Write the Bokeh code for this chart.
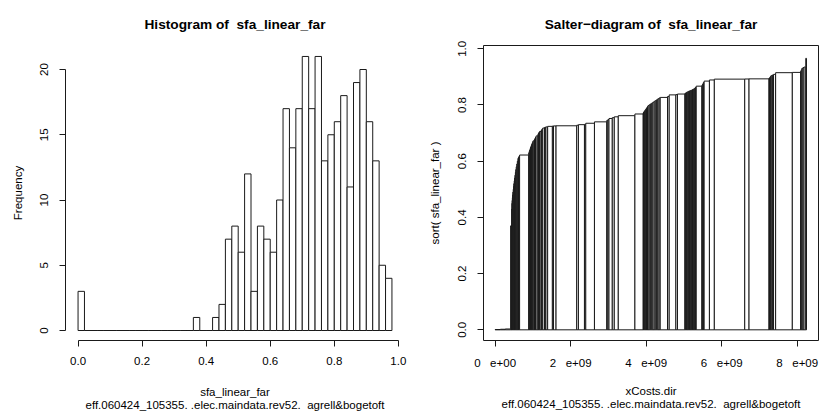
import numpy as np
from bokeh.plotting import figure
from bokeh.layouts import row
from bokeh.models import FixedTicker, PrintfTickFormatter, ColumnDataSource, Title
from bokeh.embed import file_html
from bokeh.resources import INLINE

FONT = "Liberation Sans"
TXT = "11.5px"
INK = "#1a1a1a"

# ---- histogram of sfa_linear_far (breaks every 0.02 from 0.00 to 0.98)
hist_bin_width = 0.02
hist_counts = [
    3, 0, 0, 0, 0, 0, 0, 0, 0, 0,            # 0.00 - 0.20
    0, 0, 0, 0, 0, 0, 0, 0, 1, 0,            # 0.20 - 0.40
    0, 1, 2, 7, 8, 6, 12, 3, 8, 7,           # 0.40 - 0.60
    6, 10, 17, 14, 17, 21, 17, 21, 13, 15,   # 0.60 - 0.80
    16, 18, 11, 19, 20, 16, 13, 5, 4,        # 0.80 - 0.98
]
hist_xticks = [0.0, 0.2, 0.4, 0.6, 0.8, 1.0]
hist_yticks = [0, 5, 10, 15, 20]

# ---- Salter diagram: firms sorted by efficiency, bar width = firm cost (bn)
salter_eff = [
    0.001, 0.002, 0.003, 0.37,
    0.43, 0.45, 0.46, 0.47, 0.48, 0.49, 0.50, 0.51, 0.52, 0.53,
    0.54, 0.55, 0.56, 0.57, 0.58, 0.59, 0.60, 0.61, 0.614, 0.618,
    0.622,
    0.63, 0.635, 0.64, 0.645, 0.65,
    0.655, 0.66, 0.665, 0.67, 0.673,
    0.678, 0.682, 0.686, 0.69,
    0.695, 0.70, 0.703, 0.706,
    0.709, 0.712, 0.715, 0.718,
    0.72, 0.721, 0.722,
    0.724, 0.725, 0.7255, 0.726,
    0.728, 0.73, 0.731, 0.735, 0.74, 0.745, 0.748, 0.752, 0.755, 0.758, 0.762, 0.768,
    0.772, 0.774, 0.776, 0.778, 0.78, 0.783, 0.786, 0.789, 0.792, 0.795,
    0.798, 0.801, 0.804, 0.807, 0.81, 0.813, 0.816, 0.819, 0.822, 0.825,
    0.827, 0.83, 0.836, 0.837, 0.839,
    0.841, 0.843, 0.845, 0.846, 0.848, 0.849, 0.85, 0.851, 0.852, 0.853, 0.855, 0.856, 0.858, 0.86,
    0.862, 0.864, 0.867, 0.87, 0.875, 0.88, 0.885, 0.889,
    0.892, 0.8925, 0.893,
    0.895, 0.897, 0.9, 0.903, 0.905, 0.907, 0.909,
    0.915, 0.916,
    0.92, 0.925, 0.93, 0.933, 0.935, 0.966,
]
salter_cost_bn = [
    0.14, 0.13, 0.14, 0.035,
    0.004, 0.004, 0.004, 0.007, 0.008, 0.008, 0.008, 0.009, 0.009, 0.009,
    0.011, 0.011, 0.011, 0.011, 0.015, 0.015, 0.015, 0.015, 0.015, 0.015,
    0.243,
    0.012, 0.012, 0.012, 0.012, 0.012,
    0.015, 0.015, 0.015, 0.015, 0.03,
    0.015, 0.015, 0.015, 0.045,
    0.015, 0.015, 0.015, 0.04,
    0.015, 0.015, 0.015, 0.045,
    0.02, 0.02, 0.045,
    0.125, 0.03, 0.067, 0.547,
    0.045, 0.16, 0.035, 0.23, 0.325, 0.03, 0.03, 0.087, 0.053, 0.106, 0.44, 0.22,
    0.01, 0.01, 0.01, 0.01, 0.015, 0.015, 0.015, 0.015, 0.015, 0.015,
    0.03, 0.03, 0.035, 0.03, 0.035, 0.03, 0.035, 0.03, 0.035, 0.03,
    0.193, 0.045, 0.177, 0.042, 0.196,
    0.02, 0.02, 0.02, 0.02, 0.02, 0.02, 0.02, 0.02, 0.02, 0.02, 0.02, 0.02, 0.02, 0.02,
    0.01, 0.01, 0.15, 0.02, 0.02, 0.02, 0.14, 0.13,
    0.805, 0.114, 0.529,
    0.015, 0.015, 0.015, 0.015, 0.03, 0.03, 0.055,
    0.442, 0.22,
    0.015, 0.015, 0.03, 0.03, 0.045, 0.02,
]
salter_xticks = [0, 2, 4, 6, 8]
salter_xtick_labels = ["0\u00a0\u00a0\u00a0e+00", "2\u00a0\u00a0\u00a0e+09", "4\u00a0\u00a0\u00a0e+09",
                       "6\u00a0\u00a0\u00a0e+09", "8\u00a0\u00a0\u00a0e+09"]
salter_yticks = [0.0, 0.2, 0.4, 0.6, 0.8, 1.0]

sub_text = "eff.060424_105355. .elec.maindata.rev52. \u00a0agrell&bogetoft"

assert len(salter_eff) == len(salter_cost_bn)


def style(p, title, xlab, xlab_standoff, sub_standoff):
    p.title.text = title
    p.title.align = "center"
    p.title.text_font = FONT
    p.title.text_font_size = "13.7px"
    p.title.text_font_style = "bold"
    p.title.text_color = "black"
    p.title.standoff = 27
    p.grid.visible = False
    p.background_fill_color = "white"
    p.border_fill_color = "white"
    for ax in (p.xaxis[0], p.yaxis[0]):
        ax.axis_line_color = INK
        ax.axis_line_width = 1
        ax.major_tick_line_color = INK
        ax.major_tick_out = 6
        ax.major_tick_in = 0
        ax.minor_tick_line_color = None
        ax.major_label_text_font = FONT
        ax.major_label_text_font_size = TXT
        ax.major_label_text_color = "black"
        ax.axis_label_text_font = FONT
        ax.axis_label_text_font_size = TXT
        ax.axis_label_text_font_style = "normal"
        ax.axis_label_text_color = "black"
    p.yaxis[0].major_label_orientation = "vertical"
    p.xaxis[0].major_label_standoff = 10
    p.xaxis[0].axis_label = xlab
    p.xaxis[0].axis_label_standoff = xlab_standoff
    # sub-title line under the x axis label
    p.add_layout(Title(text=sub_text, align="center", text_font=FONT, text_font_size=TXT,
                       text_font_style="normal", text_color="black", standoff=sub_standoff), "below")


# ---------------- left: histogram ----------------
hx0, hx1 = -0.0392, 1.0192
hy0, hy1 = -0.766, 21.84
p1 = figure(width=411, height=417, output_backend="svg", toolbar_location=None,
            x_range=(hx0, hx1), y_range=(hy0, hy1),
            min_border_left=65, min_border_right=7, min_border_top=45, min_border_bottom=77)
edges = np.arange(len(hist_counts) + 1) * hist_bin_width
p1.quad(left=edges[:-1], right=edges[1:], bottom=0, top=hist_counts,
        fill_color="white", line_color=INK, line_width=1)
style(p1, "Histogram of\u00a0 sfa_linear_far", "sfa_linear_far", 18, -8)
p1.outline_line_color = None
p1.xaxis.ticker = FixedTicker(ticks=hist_xticks)
p1.xaxis.formatter = PrintfTickFormatter(format="%.1f")
p1.xaxis.bounds = (hist_xticks[0], hist_xticks[-1])
p1.yaxis.ticker = FixedTicker(ticks=hist_yticks)
p1.yaxis.bounds = (hist_yticks[0], hist_yticks[-1])
p1.yaxis.major_label_standoff = 11
p1.yaxis.axis_label = "Frequency"
p1.yaxis.axis_label_standoff = 14

# ---------------- right: Salter diagram ----------------
sx0, sx1 = -0.307, 8.563
sy0, sy1 = -0.038, 1.0117
cost = np.array(salter_cost_bn)
right_edge = np.cumsum(cost)
src = ColumnDataSource(dict(left=right_edge - cost, right=right_edge, top=salter_eff))
p2 = figure(width=411, height=417, output_backend="svg", toolbar_location=None,
            x_range=(sx0, sx1), y_range=(sy0, sy1),
            min_border_left=72, min_border_right=4, min_border_top=45, min_border_bottom=77)
p2.quad(left="left", right="right", bottom=0, top="top", source=src,
        fill_color="white", line_color=INK, line_width=1)
style(p2, "Salter\u2212diagram of\u00a0 sfa_linear_far", "xCosts.dir", 13, -8)
p2.outline_line_color = INK
p2.outline_line_width = 1
p2.outline_line_alpha = 1
p2.xaxis.ticker = FixedTicker(ticks=salter_xticks)
p2.xaxis.major_label_overrides = dict(zip(salter_xticks, salter_xtick_labels))
p2.xaxis.bounds = (salter_xticks[0], salter_xticks[-1])
p2.yaxis.ticker = FixedTicker(ticks=salter_yticks)
p2.yaxis.formatter = PrintfTickFormatter(format="%.1f")
p2.yaxis.bounds = (salter_yticks[0], salter_yticks[-1])
p2.yaxis.major_label_standoff = 11
p2.yaxis.axis_label = "sort( sfa_linear_far )"
p2.yaxis.axis_label_standoff = 15

layout = row(p1, p2)
open("out.html", "w").write(file_html(layout, INLINE))
